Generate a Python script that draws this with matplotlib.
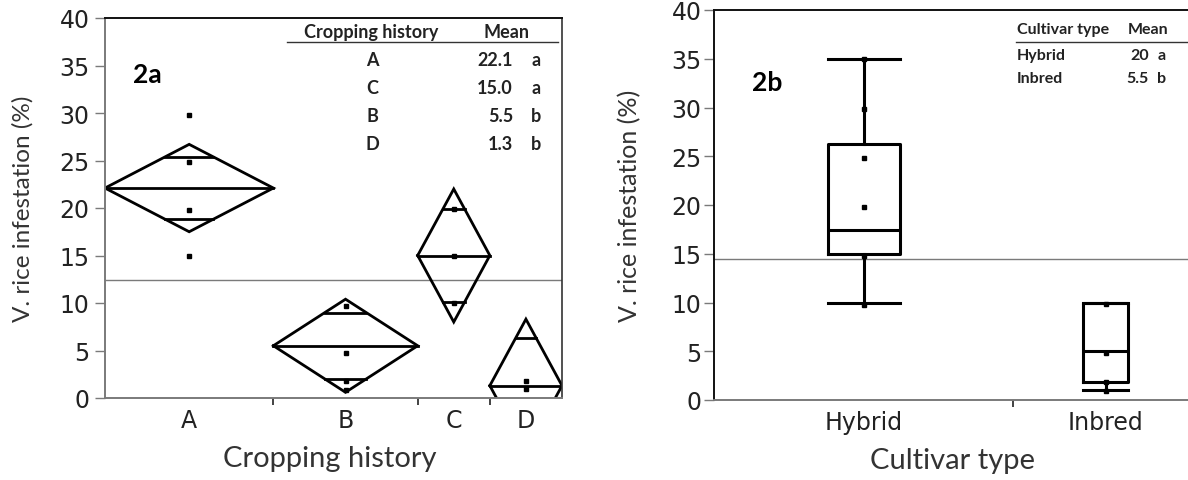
import numpy as np
import matplotlib.pyplot as plt
from matplotlib.lines import Line2D

# panel 2a: cropping history, means diamonds
crop_groups = ['A', 'B', 'C', 'D']
crop_n = [7, 6, 3, 3]
crop_mean = [22.1, 5.5, 15.0, 1.3]
crop_ci = [4.6, 4.9, 7.0, 7.0]
crop_ovl_hi = [25.4, 9.0, 19.9, 6.3]
crop_ovl_lo = [18.8, 2.0, 10.1, -3.7]
crop_points = [[29.8, 24.8, 19.8, 14.9],
               [9.7, 4.7, 1.8, 0.8],
               [19.9, 15.0, 10.0],
               [1.8, 0.9]]
crop_grand_mean = 12.4
crop_tab_groups = ['A', 'C', 'B', 'D']
crop_tab_means = ['22.1', '15.0', '5.5', '1.3']
crop_tab_letters = ['a', 'a', 'b', 'b']

# panel 2b: cultivar type, box plots
cult_groups = ['Hybrid', 'Inbred']
cult_n = [12, 7]
cult_pos = [6.0, 15.7]
cult_box_w = [2.9, 1.8]
cult_whislo = [10.0, 1.0]
cult_q1 = [15.0, 1.8]
cult_med = [17.4, 5.0]
cult_q3 = [26.3, 10.0]
cult_whishi = [35.0, 10.0]
cult_points = [[35.0, 29.8, 24.8, 19.8, 14.8, 9.7],
               [9.8, 4.8, 1.8, 0.9]]
cult_grand_mean = 14.5
cult_tab_means = ['20', '5.5']
cult_tab_letters = ['a', 'b']

W, H = 1188, 481
fig = plt.figure(figsize=(W / 100, H / 100), dpi=100)

def fx(px):
    return px / W

def fy(py):
    return 1 - py / H

tick_font = 'DejaVu Sans'
lab_font = 'Lato'
grey = '#7a7a7a'

def style_axes(ax, left_col, pad, ylab_x):
    ax.set_ylim(0, 40)
    ax.set_yticks(range(0, 41, 5))
    ax.tick_params(axis='y', length=7.5, width=1, color=grey, pad=pad,
                   labelsize=17, labelcolor='#222222')
    for lab in ax.get_yticklabels():
        lab.set_family(tick_font)
    ax.tick_params(axis='x', which='major', length=0, pad=7, labelsize=17,
                   labelcolor='#222222')
    ax.tick_params(axis='x', which='minor', length=5, width=1.2, color='#222222')
    ax.spines['left'].set_color(left_col)
    ax.spines['left'].set_linewidth(1.4)
    ax.spines['bottom'].set_color(grey)
    ax.spines['bottom'].set_linewidth(1.4)
    ax.spines['top'].set_color('#111111')
    ax.spines['top'].set_linewidth(1.4)
    ax.set_ylabel('V. rice infestation (%)', family=lab_font, fontsize=17.5,
                  color='#333333')
    ax.yaxis.set_label_coords(ylab_x, 0.5)

# ---------- 2a ----------
ax1 = fig.add_axes([fx(105), fy(399), fx(562 - 105), fy(19) - fy(399)])
bounds = np.concatenate([[0], np.cumsum(crop_n)])
centers = (bounds[:-1] + bounds[1:]) / 2
ax1.set_xlim(bounds[0], bounds[-1])
ax1.axhline(crop_grand_mean, color=grey, lw=1)
for i in range(len(crop_groups)):
    c, m, ci = centers[i], crop_mean[i], crop_ci[i]
    hw = crop_n[i] / 2
    ax1.plot([c - hw, c, c + hw, c, c - hw], [m, m + ci, m, m - ci, m],
             color='black', lw=2, solid_joinstyle='miter')
    ax1.plot([c - hw, c + hw], [m, m], color='black', lw=2)
    for lvl in (crop_ovl_hi[i], crop_ovl_lo[i]):
        w = hw * (1 - abs(lvl - m) / ci)
        ax1.plot([c - w, c + w], [lvl, lvl], color='black', lw=2)
    ax1.plot([c] * len(crop_points[i]), crop_points[i], 's', color='black',
             ms=3)
ax1.set_xticks(centers)
ax1.set_xticklabels(crop_groups, family=tick_font)
ax1.set_xticks(bounds[1:-1], minor=True)
style_axes(ax1, grey, 3.5, (34 - 105) / 457)
ax1.spines['right'].set_color('#333333')
ax1.spines['right'].set_linewidth(1.2)
ax1.set_xlabel('Cropping history', family=lab_font, fontsize=21,
               color='#333333')
ax1.xaxis.set_label_coords(0.492, -0.125)
fig.text(fx(133), fy(75), '2a', family=lab_font, weight='bold', fontsize=19,
         va='center')

# table 2a
tb = dict(family=lab_font, weight='bold', fontsize=13, color='#222222',
          va='center')
fig.text(fx(371), fy(33), 'Cropping history', ha='center', **tb)
fig.text(fx(507), fy(33), 'Mean', ha='center', **tb)
fig.add_artist(Line2D([fx(287), fx(558)], [fy(43), fy(43)], color='#333333',
                      lw=1))
for k in range(len(crop_tab_groups)):
    y = fy(60 + k * 28.3)
    fig.text(fx(372), y, crop_tab_groups[k], ha='center', **tb)
    fig.text(fx(513), y, crop_tab_means[k], ha='right', **tb)
    fig.text(fx(536), y, crop_tab_letters[k], ha='center', **tb)

# ---------- 2b ----------
ax2 = fig.add_axes([fx(714), fy(401), fx(1190 - 714), fy(11) - fy(401)])
b2 = np.concatenate([[0], np.cumsum(cult_n)])
ax2.set_xlim(0, b2[-1] * (1190 - 714) / (1188 - 714))
ax2.axhline(cult_grand_mean, color=grey, lw=1)
stats = []
for i in range(len(cult_groups)):
    stats.append(dict(whislo=cult_whislo[i], q1=cult_q1[i], med=cult_med[i],
                      q3=cult_q3[i], whishi=cult_whishi[i], fliers=[]))
lp = dict(color='black', lw=2.2)
ax2.bxp(stats, positions=cult_pos, widths=cult_box_w, capwidths=cult_box_w,
        showfliers=False, boxprops=lp, whiskerprops=lp, capprops=lp,
        medianprops=lp, manage_ticks=False)
for i in range(len(cult_groups)):
    ax2.plot([cult_pos[i]] * len(cult_points[i]), cult_points[i], 's',
             color='black', ms=3)
ax2.set_xticks(cult_pos)
ax2.set_xticklabels(cult_groups, family=tick_font)
ax2.set_xticks(b2[1:-1], minor=True)
style_axes(ax2, '#111111', 1.5, (641 - 714) / 476)
ax2.yaxis.label.set_fontsize(18)
ax2.spines['right'].set_visible(False)
ax2.set_xlabel('Cultivar type', family=lab_font, fontsize=21,
               color='#333333')
ax2.xaxis.set_label_coords((952 - 714) / (1190 - 714), -0.12)
fig.text(fx(752), fy(83), '2b', family=lab_font, weight='bold', fontsize=19,
         va='center')

# table 2b
tb2 = dict(family=lab_font, weight='bold', fontsize=11.5, color='#222222',
           va='center')
fig.text(fx(1017), fy(30), 'Cultivar type', ha='left', **tb2)
fig.text(fx(1128), fy(30), 'Mean', ha='left', **tb2)
fig.add_artist(Line2D([fx(1016), fx(1187)], [fy(43), fy(43)],
                      color='#333333', lw=1))
for k in range(len(cult_groups)):
    y = fy(56 + k * 23)
    fig.text(fx(1017), y, cult_groups[k], ha='left', **tb2)
    fig.text(fx(1149), y, cult_tab_means[k], ha='right', **tb2)
    fig.text(fx(1162), y, cult_tab_letters[k], ha='center', **tb2)

fig.savefig('out.png', dpi=100)
